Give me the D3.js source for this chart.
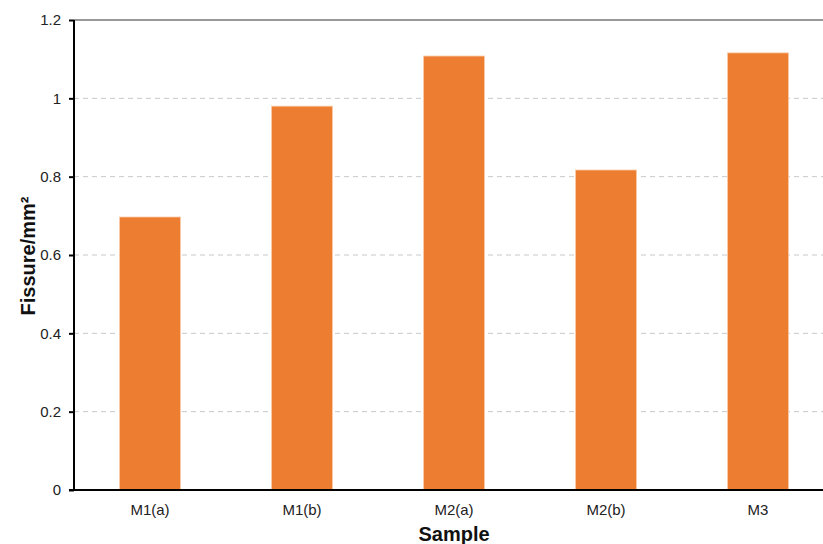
<!DOCTYPE html>
<html><head><meta charset="utf-8">
<script src="https://cdn.jsdelivr.net/npm/d3@7"></script>
<style>body{margin:0;background:#fff}svg{display:block}</style>
</head><body>
<svg id="c" width="823" height="544"></svg>
<script>
const categories = ["M1(a)", "M1(b)", "M2(a)", "M2(b)", "M3"];
const values = [0.697, 0.980, 1.108, 0.817, 1.116];
const yTicks = [0, 0.2, 0.4, 0.6, 0.8, 1, 1.2];

(function () {
const svg = d3.select("#c");
const mLeft = 74, mTop = 20, mBottom = 490, mRight = 834;
const x = d3.scaleBand().domain(categories).range([mLeft, mRight]).paddingInner(0.6).paddingOuter(0.3);
const y = d3.scaleLinear().domain([0, 1.2]).range([mBottom, mTop]);

// gridlines
svg.append("g").selectAll("line").data(yTicks.filter(d => d > 0 && d < 1.2)).join("line")
  .attr("x1", mLeft).attr("x2", mRight).attr("y1", d => y(d)).attr("y2", d => y(d))
  .attr("stroke", "#c8c8c8").attr("stroke-width", 1).attr("stroke-dasharray", "5,4");

// top border
svg.append("line").attr("x1", mLeft).attr("x2", mRight).attr("y1", y(1.2)).attr("y2", y(1.2))
  .attr("stroke", "#777").attr("stroke-width", 1.5);

// bars
svg.append("g").selectAll("rect").data(values).join("rect")
  .attr("x", (d, i) => x(categories[i]))
  .attr("width", x.bandwidth())
  .attr("y", d => y(d))
  .attr("height", d => mBottom - y(d))
  .attr("fill", "#ED7D31")
  .attr("stroke", "#F9C9A6").attr("stroke-width", 0.8);

const font = "Arial, 'Liberation Sans', sans-serif";
// y axis
const ya = svg.append("g").attr("transform", `translate(${mLeft},0)`)
  .call(d3.axisLeft(y).tickValues(yTicks).tickFormat(d3.format("~g")).tickSize(5).tickPadding(8));
ya.select(".domain").attr("stroke", "#000").attr("stroke-width", 2).attr("d", `M0,${mTop}V${mBottom}`);
ya.selectAll(".tick line").attr("stroke", "#000").attr("stroke-width", 2);
ya.selectAll(".tick text").attr("font-family", font).attr("font-size", 15).attr("fill", "#222");

// x axis
const xa = svg.append("g").attr("transform", `translate(0,${mBottom})`)
  .call(d3.axisBottom(x).tickSize(0).tickPadding(14));
xa.select(".domain").attr("stroke", "#000").attr("stroke-width", 2).attr("d", `M${mLeft - 5},0H${mRight}`);
xa.selectAll(".tick text").attr("font-family", font).attr("font-size", 15).attr("fill", "#222");

// axis titles
svg.append("text").attr("x", 454).attr("y", 541).attr("text-anchor", "middle")
  .attr("font-family", font).attr("font-weight", "bold").attr("font-size", 20)
  .attr("fill", "#111").text("Sample");
svg.append("text").attr("transform", "translate(35,256) rotate(-90)").attr("text-anchor", "middle")
  .attr("font-family", font).attr("font-weight", "bold").attr("font-size", 20)
  .attr("fill", "#111").text("Fissure/mm²");
})();
</script>
</body></html>
